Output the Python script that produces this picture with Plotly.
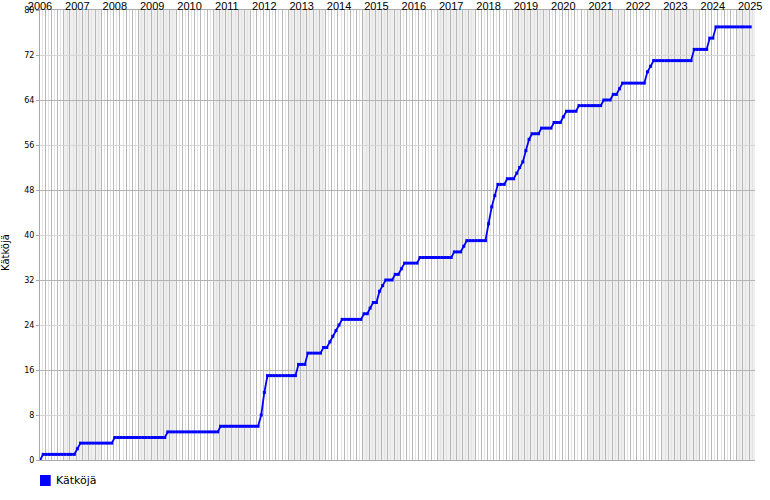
import plotly.graph_objects as go
import pandas as pd

# ---- data (monthly cumulative count) ----
start_date = "2006-05-12"
range_end = "2025-06-28"

katkoja = [
    0,
    1, 1, 1, 1, 1, 1, 1, 1, 1, 1, 1,
    2,
    3, 3, 3, 3, 3, 3, 3, 3, 3, 3, 3,
    4, 4, 4, 4, 4, 4, 4, 4, 4, 4, 4, 4, 4, 4, 4, 4, 4,
    5, 5, 5, 5, 5, 5, 5, 5, 5, 5, 5, 5, 5, 5, 5, 5, 5,
    6, 6, 6, 6, 6, 6, 6, 6, 6, 6, 6, 6, 6,
    8, 12,
    15, 15, 15, 15, 15, 15, 15, 15, 15, 15,
    17, 17, 17,
    19, 19, 19, 19, 19,
    20, 20,
    21, 22, 23, 24,
    25, 25, 25, 25, 25, 25, 25,
    26, 26, 27, 28, 28, 30, 31,
    32, 32, 32, 33, 33, 34,
    35, 35, 35, 35, 35,
    36, 36, 36, 36, 36, 36, 36, 36, 36, 36, 36,
    37, 37, 37, 38,
    39, 39, 39, 39, 39, 39, 39,
    42, 45, 47,
    49, 49, 49,
    50, 50, 50,
    51, 52, 53, 55, 57,
    58, 58, 58,
    59, 59, 59, 59,
    60, 60, 60, 61,
    62, 62, 62, 62,
    63, 63, 63, 63, 63, 63, 63, 63,
    64, 64, 64,
    65, 65, 66,
    67, 67, 67, 67, 67, 67, 67, 67,
    69, 70,
    71, 71, 71, 71, 71, 71, 71, 71, 71, 71, 71, 71, 71,
    73, 73, 73, 73, 73,
    75, 75,
    77, 77, 77, 77, 77, 77, 77, 77, 77, 77, 77, 77,
]

year_labels = ["2006", "2007", "2008", "2009", "2010", "2011", "2012", "2013",
               "2014", "2015", "2016", "2017", "2018", "2019", "2020", "2021",
               "2022", "2023", "2024", "2025"]
y_ticks = [0, 8, 16, 24, 32, 40, 48, 56, 64, 72, 80]

# ---- positions derived through date scale ----
dates = pd.date_range(start_date, periods=len(katkoja), freq=pd.DateOffset(months=1))
year_ticks = pd.date_range(start_date, periods=len(year_labels), freq=pd.DateOffset(years=1))

fig = go.Figure()
fig.add_trace(go.Scatter(
    x=dates, y=katkoja, mode="lines+markers",
    line=dict(color="#0000ff", width=1.8),
    marker=dict(symbol="square", size=3, color="#0000ff"),
    showlegend=False, hoverinfo="x+y",
))
# helper (invisible) trace so the overlay axes (year labels, darker grid) are drawn
fig.add_trace(go.Scatter(
    x=[start_date], y=[0], xaxis="x2", yaxis="y2", mode="markers",
    marker=dict(opacity=0), showlegend=False, hoverinfo="skip",
))

shapes = []
# alternating year shading (odd calendar years)
end_ts = pd.Timestamp(range_end)
for yr in range(2007, 2026, 2):
    x0 = pd.Timestamp(f"{yr}-01-01")
    x1 = min(pd.Timestamp(f"{yr + 1}-01-01"), end_ts)
    shapes.append(dict(type="rect", xref="x", yref="paper", x0=x0, x1=x1, y0=0, y1=1,
                       fillcolor="#efefef", line=dict(width=0), layer="below"))
# legend swatch
shapes.append(dict(type="rect", xref="paper", yref="paper",
                   x0=0, x1=10.7 / 715, y0=(460 - 486) / 450, y1=(460 - 475) / 450,
                   fillcolor="#0000ff", line=dict(width=0)))

fig.update_layout(
    width=770, height=500, autosize=False,
    margin=dict(l=40, r=15, t=10, b=40, pad=0),
    paper_bgcolor="white", plot_bgcolor="white",
    font=dict(family="Liberation Sans, Arial, sans-serif", color="black"),
    shapes=shapes,
    xaxis=dict(
        type="date", range=[start_date, range_end], automargin=False,
        tick0="2007-01-01", dtick="M2", showticklabels=False, ticks="",
        showgrid=True, gridcolor="#b8b8b8", gridwidth=1, zeroline=False,
        minor=dict(dtick="M1", tick0="2007-01-01", showgrid=True, gridcolor="#e2e2e2",
                   gridwidth=1, ticks=""),
        showline=True, mirror=True, linecolor="#aaaaaa", linewidth=1,
    ),
    xaxis2=dict(
        type="date", range=[start_date, range_end], automargin=False,
        overlaying="x", anchor="y2", side="top",
        tickmode="array", tickvals=year_ticks, ticktext=year_labels,
        showgrid=False, zeroline=False, ticks="", showline=False,
        ticklabelstandoff=-3,
        tickfont=dict(size=11, family="Liberation Sans, Arial, sans-serif", color="black"),
    ),
    yaxis=dict(
        range=[0, 80], tickmode="array", tickvals=y_ticks, automargin=False,
        showgrid=True, gridcolor="#d6d6d6", gridwidth=1, zeroline=False,
        showline=True, linecolor="#aaaaaa", linewidth=1,
        ticks="outside", ticklen=3, tickcolor="#aaaaaa",
        tickfont=dict(size=8, family="DejaVu Sans, sans-serif", color="black"),
    ),
    yaxis2=dict(
        range=[0, 80], overlaying="y", anchor="x2", side="left", automargin=False,
        tickmode="linear", tick0=0, dtick=16, showticklabels=False, ticks="",
        showgrid=True, gridcolor="#b4b4b4", gridwidth=1, zeroline=False, showline=False,
    ),
    annotations=[
        dict(text="Kätköjä", xref="paper", yref="paper", x=(5 - 40) / 715, y=(460 - 253) / 450,
             textangle=-90, showarrow=False, xanchor="center", yanchor="middle",
             font=dict(size=10, family="DejaVu Sans, sans-serif", color="black")),
        dict(text="Kätköjä", xref="paper", yref="paper", x=14 / 715, y=(460 - 480.5) / 450,
             showarrow=False, xanchor="left", yanchor="middle",
             font=dict(size=11, family="DejaVu Sans, sans-serif", color="black")),
    ],
)

fig.write_html("out.html", config={"displayModeBar": False},
               post_script="document.body.style.margin='0px';")
